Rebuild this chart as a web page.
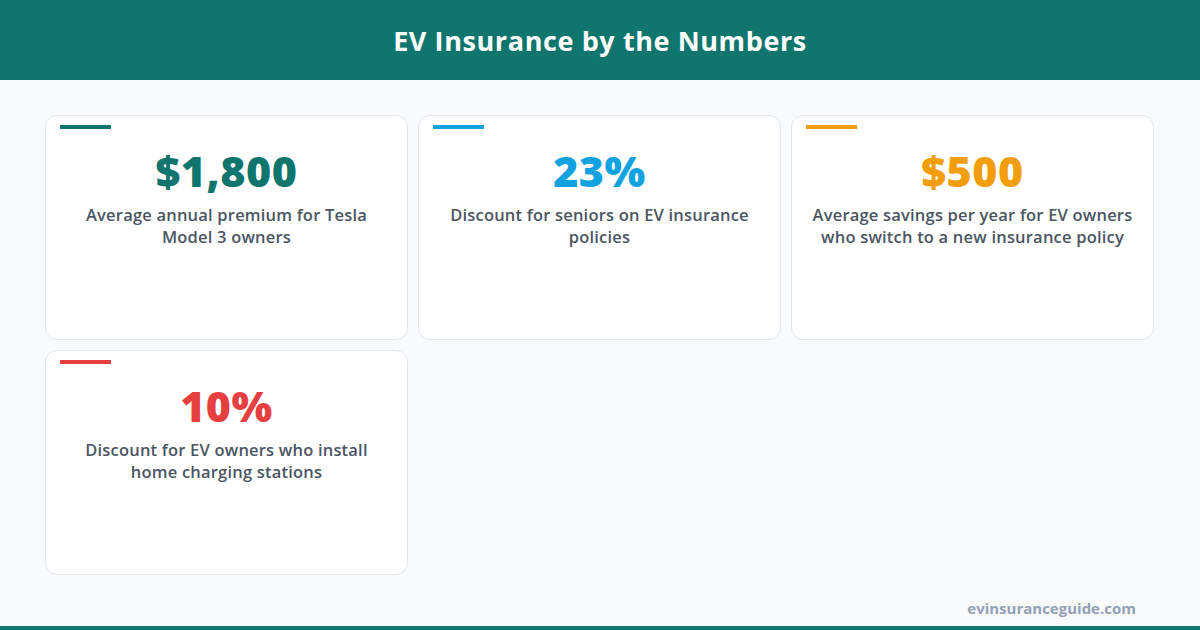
<!DOCTYPE html>
<html>
<head>
<meta charset="utf-8">
<script src="https://cdn.jsdelivr.net/npm/chart.js@4"></script>
<style>
  html, body { margin: 0; padding: 0; }
  body {
    width: 1200px; height: 630px; overflow: hidden; position: relative;
    background: #f8fafc; font-family: "Open Sans", "Noto Sans", sans-serif;
  }
  .header {
    height: 80px; background: #10766d; color: #fff;
    display: flex; align-items: center; justify-content: center;
    font-size: 27px; font-weight: 700; letter-spacing: 0.6px;
  }
  .grid {
    position: absolute; left: 45px; top: 115px;
    display: grid; grid-template-columns: repeat(3, 363px);
    grid-auto-rows: 225px; gap: 10px;
  }
  .card {
    position: relative; background: #fff; border: 1px solid #e3e7ec;
    border-radius: 12px; box-sizing: border-box; text-align: center;
  }
  .accent { position: absolute; left: 14px; top: 9px; width: 51px; height: 4px; }
  .value {
    position: absolute; left: 0; right: 0; top: 25px;
    font-size: 43px; font-weight: 800; letter-spacing: 0.5px;
  }
  .label {
    position: absolute; left: 18px; right: 18px; top: 88px;
    font-size: 16.5px; font-weight: 600; color: #4b5563; line-height: 22px;
    letter-spacing: 0.2px;
  }
  .footer {
    position: absolute; right: 64px; top: 598px;
    font-size: 15px; font-weight: 700; color: #94a0b4;
  }
  .strip { position: absolute; left: 0; right: 0; bottom: 0; height: 4px; background: #10766d; }
</style>
</head>
<body>
<div class="header" id="title"></div>
<div class="grid" id="grid"></div>
<div class="footer" id="source"></div>
<div class="strip"></div>
<script>
const title = "EV Insurance by the Numbers";
const values = ["$1,800", "23%", "$500", "10%"];
const labels = [
  "Average annual premium for Tesla Model 3 owners",
  "Discount for seniors on EV insurance policies",
  "Average savings per year for EV owners who switch to a new insurance policy",
  "Discount for EV owners who install home charging stations"
];
const colors = ["#10766d", "#13a2e0", "#f29d0b", "#e5403f"];
const source = "evinsuranceguide.com";

document.getElementById("title").textContent = title;
document.getElementById("source").textContent = source;

const grid = document.getElementById("grid");
values.forEach(function(v, i) {
  const card = document.createElement("div");
  card.className = "card";
  card.innerHTML = '<div class="accent"></div><div class="value"></div><div class="label"></div>';
  card.querySelector(".accent").style.background = colors[i];
  const val = card.querySelector(".value");
  val.textContent = v;
  val.style.color = colors[i];
  card.querySelector(".label").textContent = labels[i];
  grid.appendChild(card);
});
</script>
</body>
</html>
